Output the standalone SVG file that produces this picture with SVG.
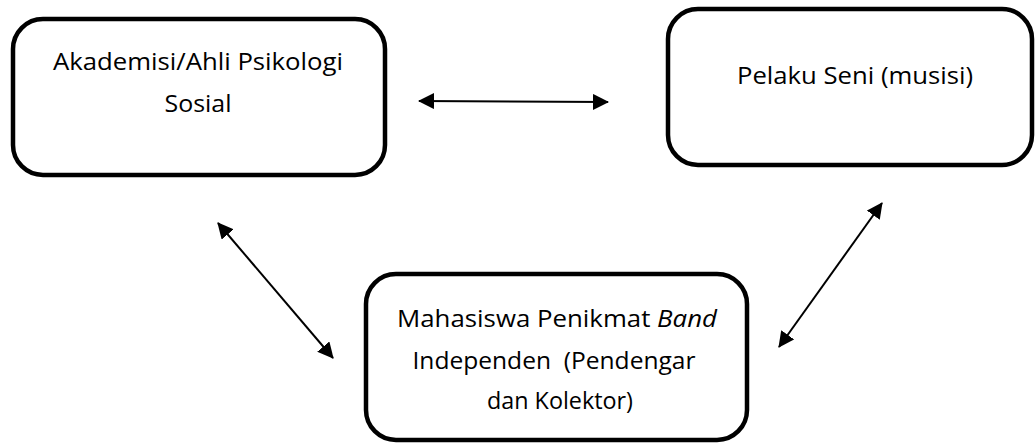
<svg xmlns="http://www.w3.org/2000/svg" width="1035" height="445" viewBox="0 0 1035 445">
<style>
.box{fill:#fff;stroke:#000;stroke-width:4.5}
.t{font-family:"Open Sans","Liberation Sans",sans-serif;font-size:24.5px;fill:#000;text-anchor:middle}
.c{stroke:#000;stroke-width:2;fill:none;marker-start:url(#ah);marker-end:url(#ah)}
</style>
<defs>
<marker id="ah" viewBox="0 0 16 16" refX="15" refY="8" markerWidth="16" markerHeight="16" markerUnits="userSpaceOnUse" orient="auto-start-reverse">
<path d="M0,0 L16,8 L0,16 Z" fill="#000"/>
</marker>
</defs>
<g id="node-akademisi">
<rect class="box" x="13" y="19" width="372" height="156" rx="30"/>
<text class="t" x="198" y="70" textLength="290" lengthAdjust="spacingAndGlyphs">Akademisi/Ahli Psikologi</text>
<text class="t" x="198" y="112" textLength="67" lengthAdjust="spacingAndGlyphs">Sosial</text>
</g>
<g id="node-pelaku">
<rect class="box" x="668" y="9" width="364" height="156" rx="30"/>
<text class="t" x="855" y="84" textLength="236" lengthAdjust="spacingAndGlyphs">Pelaku Seni (musisi)</text>
</g>
<g id="node-mahasiswa">
<rect class="box" x="366" y="274" width="381" height="166" rx="30"/>
<text class="t" x="557" y="327" textLength="320" lengthAdjust="spacingAndGlyphs">Mahasiswa Penikmat <tspan font-style="italic">Band</tspan></text>
<text class="t" x="554" y="369" textLength="283" lengthAdjust="spacingAndGlyphs" xml:space="preserve">Independen  (Pendengar</text>
<text class="t" x="560" y="409" textLength="146" lengthAdjust="spacingAndGlyphs">dan Kolektor)</text>
</g>
<g id="connectors">
<line class="c" x1="419" y1="101" x2="608" y2="102"/>
<line class="c" x1="218" y1="223" x2="333" y2="358"/>
<line class="c" x1="882" y1="203" x2="779" y2="347"/>
</g>
</svg>
